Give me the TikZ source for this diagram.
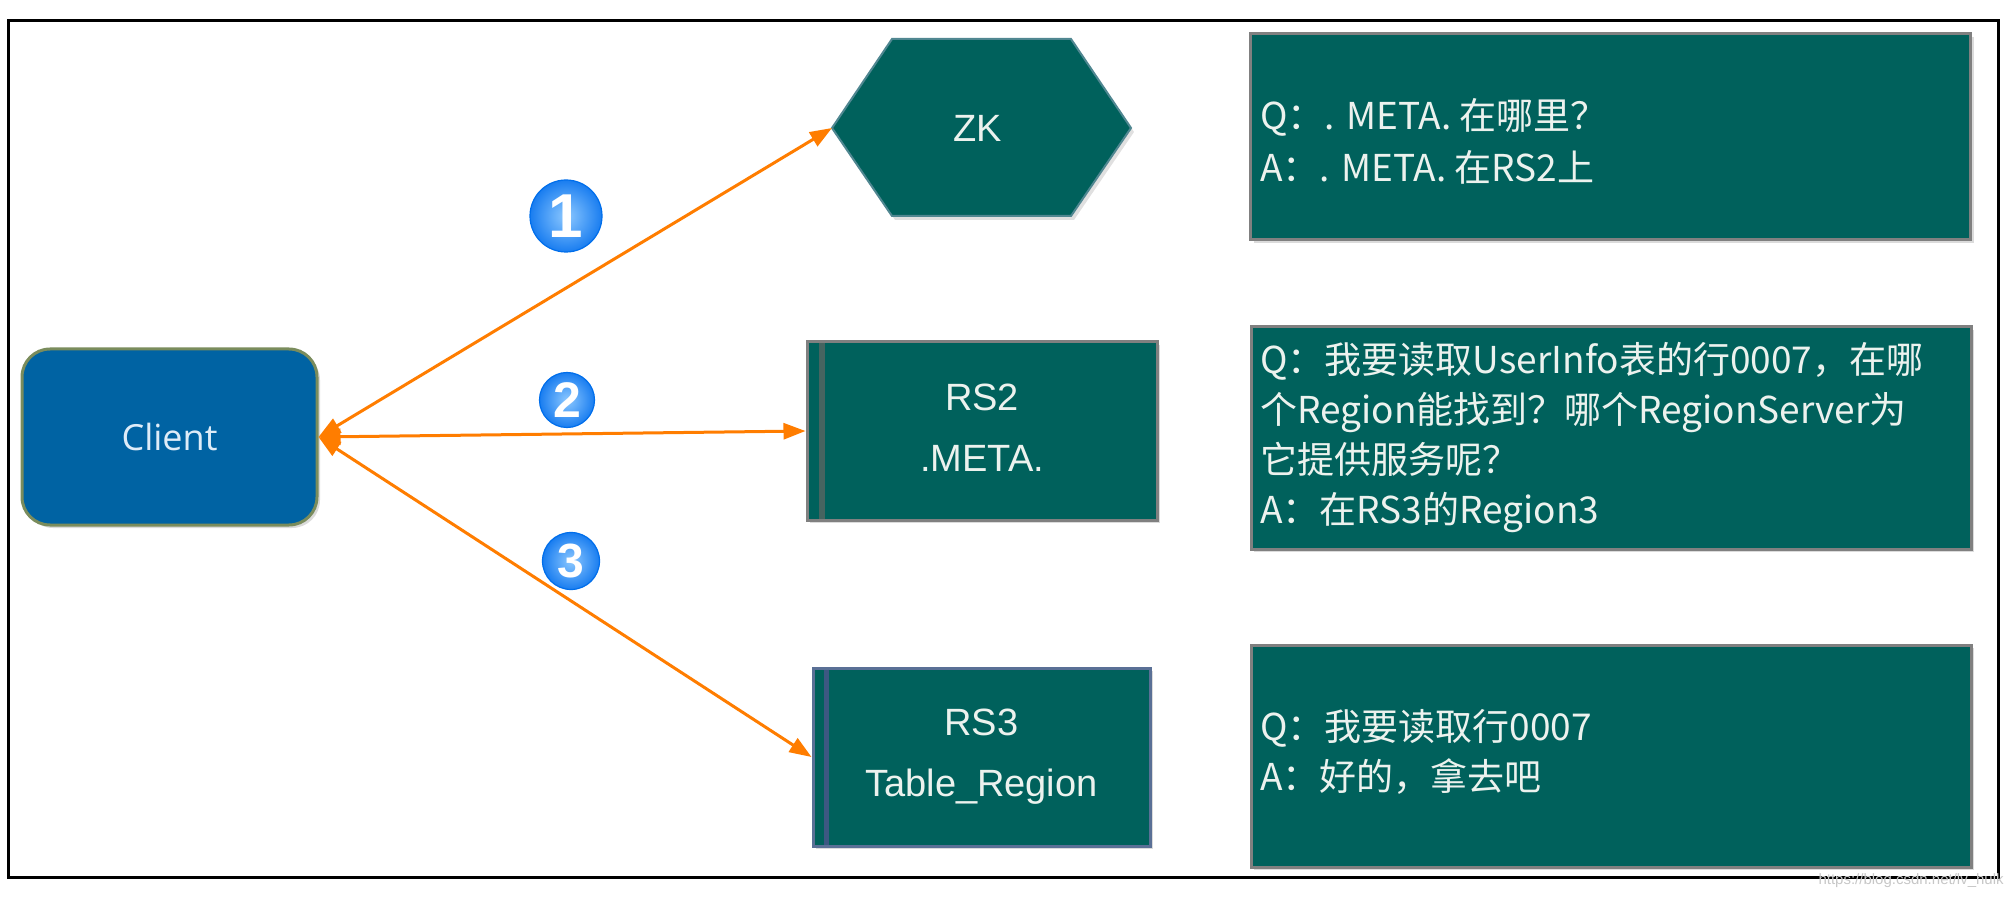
\documentclass[tikz,border=0pt]{standalone}
\usepackage{fontspec}
\setmainfont{Liberation Sans}
\newfontfamily\cjkfont{Noto Sans CJK SC}
\newfontfamily\clientfont{Open Sans}
\usetikzlibrary{arrows.meta,shadows,calc}
\definecolor{tealbox}{RGB}{0,97,92}
\definecolor{clientblue}{RGB}{0,99,163}
\definecolor{clientedge}{RGB}{122,140,92}
\definecolor{arroworange}{RGB}{255,125,0}
\definecolor{boxedge}{RGB}{128,128,128}
\definecolor{rsedge}{RGB}{90,112,150}
\definecolor{stripegray}{RGB}{70,100,96}
\definecolor{stripeblue}{RGB}{60,88,130}
\definecolor{ballin}{RGB}{140,200,255}
\definecolor{ballout}{RGB}{25,125,240}
\definecolor{balledge}{RGB}{0,110,235}
\definecolor{boxtext}{RGB}{236,242,238}
\definecolor{clienttext}{RGB}{222,236,248}
\definecolor{hexedge}{RGB}{80,135,145}
\begin{document}
\begin{tikzpicture}[x=0.5pt,y=-0.5pt,
  boxshadow/.style={drop shadow={shadow xshift=1.5pt,shadow yshift=-1.5pt,fill=black!14,opacity=1}},
  qabox/.style={rectangle,fill=tealbox,draw=boxedge,line width=1.5pt,
    minimum width=360pt,minimum height=111pt,inner sep=0pt,boxshadow},
  qatext/.style={anchor=west,inner sep=0pt,text=boxtext,align=left,
    font=\cjkfont\fontsize{18.5}{25}\selectfont},
  rsbox/.style={rectangle,fill=tealbox,line width=1.5pt,minimum height=89pt,
    text=boxtext,align=center,font=\fontsize{19}{30.5}\selectfont,boxshadow},
  clientbox/.style={rectangle,rounded corners=14pt,fill=clientblue,draw=clientedge,
    line width=1.5pt,minimum width=147.5pt,minimum height=88pt,text=clienttext,
    font=\clientfont\fontsize{18}{20}\selectfont,boxshadow},
  numball/.style={circle,inner sep=0pt,inner color=ballin,outer color=ballout,
    draw=balledge,line width=0.6pt,text=white},
  linkarrow/.style={draw=arroworange,line width=1.5pt,
    {Triangle[length=11pt,width=8pt]}-{Triangle[length=11pt,width=8pt]}}]
\useasboundingbox (0,0) rectangle (2013,898);
% outer frame
\draw[line width=1.5pt] (8,21) rectangle (1998,877);
% ZK hexagon
\coordinate (zkW) at (832,128);
\coordinate (zkNW) at (892,39);
\coordinate (zkNE) at (1071,39);
\coordinate (zkE) at (1131,128);
\coordinate (zkSE) at (1071,216);
\coordinate (zkSW) at (892,216);
\fill[black!12] ($(zkW)+(3,4)$) -- ($(zkNW)+(3,4)$) -- ($(zkNE)+(3,4)$) -- ($(zkE)+(3,4)$) -- ($(zkSE)+(3,4)$) -- ($(zkSW)+(3,4)$) -- cycle;
\filldraw[fill=tealbox,draw=hexedge,line width=1pt] (zkW) -- (zkNW) -- (zkNE) -- (zkE) -- (zkSE) -- (zkSW) -- cycle;
\node[text=boxtext,font=\fontsize{19}{21}\selectfont] (zk) at (978,128) {ZK};
% Q/A boxes
\node[qabox,minimum height=103pt] (qa1) at (1610.5,137) {};
\node[qabox] (qa2) at (1611,438) {};
\node[qabox] (qa3) at (1611,756) {};
\node[qatext,font=\cjkfont\fontsize{18.5}{26}\selectfont] (t1) at (1260,141)
  {Q：. META. 在哪里？\\A：. META. 在RS2上};
\node[qatext] (t2) at (1260,438)
  {Q：我要读取UserInfo表的行0007，在哪\\个Region能找到？哪个RegionServer为\\它提供服务呢？\\A：在RS3的Region3};
\node[qatext] (t3) at (1260,752)
  {Q：我要读取行0007\\A：好的，拿去吧};
% Client
\node[clientbox] (client) at (169.5,437) {Client};
% RS boxes
\node[rsbox,draw=boxedge,minimum width=175pt] (rs2) at (982,431) {\raisebox{3pt}{RS2}\\\raisebox{3pt}{.META.}};
\draw[stripegray,line width=3pt] ($(rs2.north west)+(16,3)$) -- ($(rs2.south west)+(16,-3)$);
\node[rsbox,draw=rsedge,minimum width=168.5pt] (rs3) at (981.5,757) {RS3\\Table\_Region};
\draw[stripeblue,line width=2.5pt] ($(rs3.north west)+(15,3)$) -- ($(rs3.south west)+(15,-3)$);
% connectors
\draw[linkarrow] (client.east) -- (zkW);
\draw[linkarrow] (client.east) -- (rs2.west);
\draw[linkarrow] (client.east) -- (rs3.west);
% step numbers
\node[numball,minimum size=36pt,font=\bfseries\fontsize{31}{31}\selectfont] (n1) at (566,216) {1};
\node[numball,minimum size=27.5pt,font=\bfseries\fontsize{25}{25}\selectfont] (n2) at (567,400) {2};
\node[numball,minimum size=28.5pt,font=\bfseries\fontsize{24}{24}\selectfont] (n3) at (571,561) {3};
% watermark
\node[anchor=east,inner sep=0pt,text=black!22,font=\fontsize{7.5}{8}\selectfont] (wm) at (2004,881) {https://blog.csdn.net/lv\_hulk};
\end{tikzpicture}
\end{document}
